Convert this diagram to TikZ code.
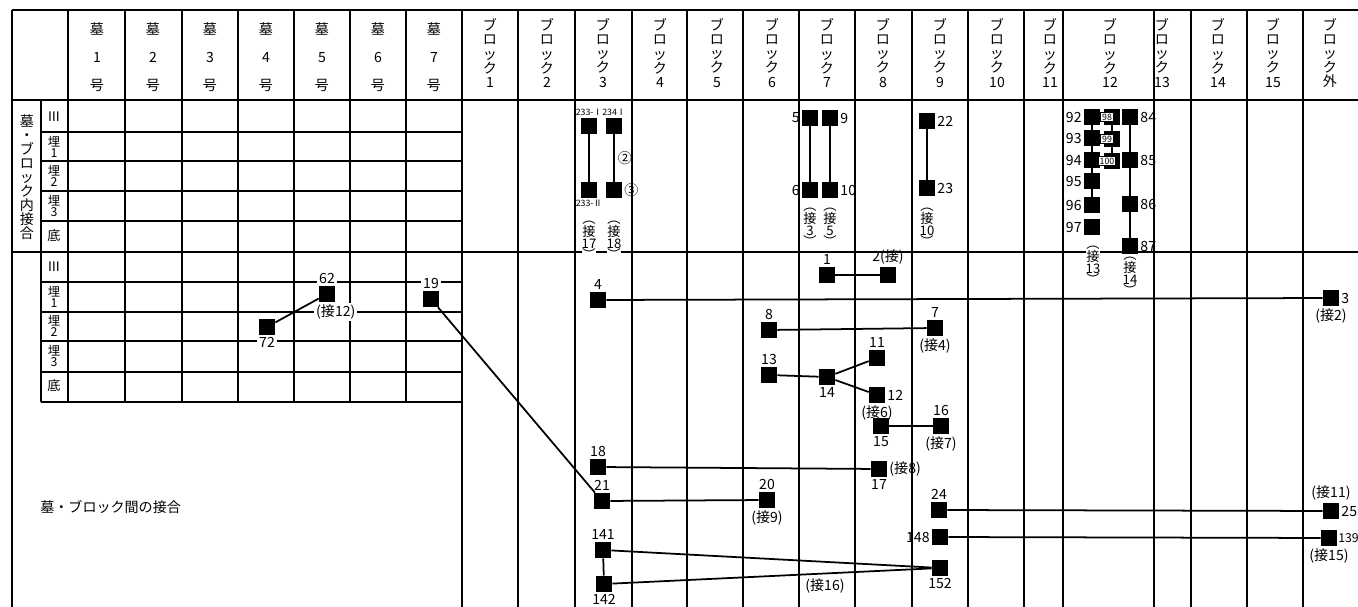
\documentclass[tikz,border=0pt]{standalone}
\usepackage{fontspec}
\setmainfont{Noto Sans CJK JP}
\newcommand{\numfont}{\fontsize{8}{8.5}\selectfont}
\newcommand{\tagfont}{\fontsize{5}{5.5}\selectfont}

\begin{document}
\begin{tikzpicture}[
    x=0.02cm, y=-0.02cm,
    gridline/.style={line width=0.6pt},
    pit/.style={rectangle, fill=black, minimum size=0.32cm, inner sep=0pt},
    link/.style={line width=1pt},
    every label/.style={font=\numfont, inner sep=1pt},
    hdr/.style={align=center, font=\fontsize{8}{8}\selectfont, inner sep=0pt},
    rowhdr/.style={align=center, font=\fontsize{7}{6.3}\selectfont, inner sep=0pt},
    vtag/.style={align=center, font=\fontsize{7.5}{6.4}\selectfont, inner sep=0pt},
    note/.style={font=\numfont, inner sep=1pt},
    boxtag/.style={draw, fill=white, font=\tagfont, inner sep=0.8pt, line width=0.4pt}
]
\useasboundingbox (0,0) rectangle (1358,607);

% ===== GRID =====
\draw[gridline] (12,10) -- (1358,10);
\draw[gridline] (12,10) -- (12,607);
\draw[gridline] (12,100) -- (1358,100);
\draw[gridline] (12,252) -- (1358,252);
\foreach \y in {132,161,191,221,282,312,341,372,402}
    \draw[gridline] (41,\y) -- (462,\y);
\draw[gridline] (41,100) -- (41,402);
\foreach \x in {68,125,182,238,294,350,406}
    \draw[gridline] (\x,10) -- (\x,402);
\foreach \x in {462,518,575,632,687,743,799,855,912,968,1024,1063,1154,1191,1247,1303}
    \draw[gridline] (\x,10) -- (\x,607);

% ===== HEADERS =====
\foreach \i/\x in {1/97,2/153,3/210,4/266,5/322,6/378,7/434}
    \node[hdr, font=\fontsize{8}{15.9}\selectfont] (tomb\i) at (\x,57) {墓\\\i\\号};
\foreach \i/\x in {1/490,2/547,3/603,4/660,5/717,6/772,7/827,8/883,9/940,10/997,11/1050,12/1110,13/1162,14/1218,15/1273}
    \node[hdr] (blk\i) at (\x,53) {ブ\\ロ\\ッ\\ク\\\i};
\node[hdr] (blkout) at (1330,53) {ブ\\ロ\\ッ\\ク\\外};

% row labels (both sections)
\foreach \s/\d in {a/0,b/150}{
    \node[rowhdr, font=\fontsize{7.5}{7.5}\selectfont] (row\s iii) at (54,117+\d) {Ⅲ};
    \node[rowhdr] (row\s 1) at (54,147+\d) {埋\\1};
    \node[rowhdr] (row\s 2) at (54,176+\d) {埋\\2};
    \node[rowhdr] (row\s 3) at (54,206+\d) {埋\\3};
    \node[rowhdr, font=\fontsize{7.5}{7.5}\selectfont] (row\s b) at (54,236+\d) {底};
}
\node[hdr] (inner) at (27,177) {墓\\・\\ブ\\ロ\\ッ\\ク\\内\\接\\合};
\node[anchor=west, font=\fontsize{8}{9}\selectfont, inner sep=0pt] (between) at (40,507) {墓・ブロック間の接合};

% ===== JOINS INSIDE A BLOCK =====
% block 3
\node[pit, label={[font=\tagfont]above:233-Ⅰ}] (p233a) at (589,126) {};
\node[pit, label={[font=\tagfont]above:234Ⅰ}] (p234a) at (614,126) {};
\node[pit, label={[font=\tagfont]below:233-Ⅱ}] (p233b) at (589,190) {};
\node[pit, label=right:③] (p234b) at (614,190) {};
\node[note] (c2) at (625,158) {②};
\draw[link] (p233a) -- (p233b);
\draw[link] (p234a) -- (p234b);
\node[vtag, fill=white] (j17) at (589,240) {︵\\接\\17\\︶};
\node[vtag, fill=white] (j18) at (614,240) {︵\\接\\18\\︶};

% block 7 and 9
\node[pit, label=left:5] (p5) at (810,118) {};
\node[pit, label=right:9] (p9) at (830,118) {};
\node[pit, label=left:6] (p6) at (810,190) {};
\node[pit, label=right:10] (p10) at (830,190) {};
\node[pit, label=right:22] (p22) at (927,121) {};
\node[pit, label=right:23] (p23) at (927,188) {};
\draw[link] (p5) -- (p6);
\draw[link] (p9) -- (p10);
\draw[link] (p22) -- (p23);
\node[vtag] (j3) at (810,227) {︵\\接\\3\\︶};
\node[vtag] (j5) at (830,227) {︵\\接\\5\\︶};
\node[vtag] (j10) at (927,227) {︵\\接\\10\\︶};

% block 12
\foreach \n/\y in {92/117,93/138,94/160,95/181,96/205,97/227}
    \node[pit, label=left:\n] (p\n) at (1092,\y) {};
\draw[link] (p92) -- (p93) -- (p94) -- (p95) -- (p96);
\foreach \n/\y in {98/117,99/139,100/161}
    \node[pit] (p\n) at (1112,\y) {};
\draw[gridline] (p98) -- (p99) -- (p100);
\foreach \n/\y in {98/117,99/139,100/161}
    \node[boxtag] (t\n) at (1107,\y) {\n};
\foreach \n/\y in {84/117,85/160,86/204,87/246}
    \node[pit, label=right:\n] (p\n) at (1130,\y) {};
\draw[link] (p84) -- (p85) -- (p86) -- (p87);
\node[vtag, fill=white] (j13) at (1093,265) {︵\\接\\13\\︶};
\node[vtag, fill=white] (j14) at (1130,276) {︵\\接\\14\\︶};

% ===== JOINS BETWEEN TOMBS AND BLOCKS =====
\node[pit, label={[fill=white]above:62}, label={[fill=white,xshift=5pt]below:{(接12)}}] (p62) at (327,294) {};
\node[pit, label={[fill=white]below:72}] (p72) at (267,327) {};
\node[pit, label={[fill=white]above:19}] (p19) at (431,299) {};
\node[pit, label=above:4] (p4) at (598,300) {};
\node[pit, label=right:3, label={below:{(接2)}}] (p3) at (1331,298) {};
\node[pit, label=above:1] (p1) at (827,275) {};
\node[pit, label={above:{2(接)}}] (p2) at (888,275) {};
\node[pit, label=above:8] (p8) at (769,330) {};
\node[pit, label=above:7, label={below:{(接4)}}] (p7) at (935,328) {};
\node[pit, label=above:13] (p13) at (769,375) {};
\node[pit, label=below:14] (p14) at (827,377) {};
\node[pit, label=above:11] (p11) at (877,358) {};
\node[pit, label=right:12, label={below:{(接6)}}] (p12) at (877,395) {};
\node[pit, label=below:15] (p15) at (881,426) {};
\node[pit, label=above:16, label={below:{(接7)}}] (p16) at (941,426) {};
\node[pit, label=above:18] (p18) at (598,467) {};
\node[pit, label=below:17, label={right:{(接8)}}] (p17) at (879,469) {};
\node[pit, label=above:21] (p21) at (602,501) {};
\node[pit, label=above:20, label={below:{(接9)}}] (p20) at (767,500) {};
\node[pit, label=above:24] (p24) at (939,510) {};
\node[pit, label=right:25, label={above:{(接11)}}] (p25) at (1331,511) {};
\node[pit, label=left:148] (p148) at (940,537) {};
\node[pit, label={[inner sep=0.3pt, font=\fontsize{7}{7}\selectfont]right:139}, label={below:{(接15)}}] (p139) at (1329,538) {};
\node[pit, label=above:141] (p141) at (603,550) {};
\node[pit, label=below:142] (p142) at (604,584) {};
\node[pit, label=below:152] (p152) at (940,568) {};
\node[note] (j16) at (825,586) {(接16)};

\draw[link] (p72) -- (p62);
\draw[link] (p19) -- (p21);
\draw[link] (p4) -- (p3);
\draw[link] (p1) -- (p2);
\draw[link] (p8) -- (p7);
\draw[link] (p13) -- (p14);
\draw[link] (p14) -- (p11);
\draw[link] (p14) -- (p12);
\draw[link] (p15) -- (p16);
\draw[link] (p18) -- (p17);
\draw[link] (p21) -- (p20);
\draw[link] (p24) -- (p25);
\draw[link] (p148) -- (p139);
\draw[link] (p141) -- (p142);
\draw[link] (p141) -- (p152);
\draw[link] (p142) -- (p152);

\end{tikzpicture}
\end{document}
